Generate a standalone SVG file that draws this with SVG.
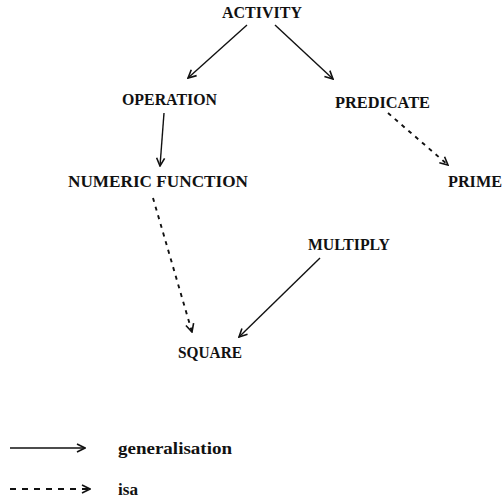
<svg xmlns="http://www.w3.org/2000/svg" width="503" height="501" viewBox="0 0 503 501">
<style>
text{font-family:"Liberation Serif","DejaVu Serif",serif;font-weight:bold;font-size:16px;fill:#111}
.gen{fill:none;stroke:#111;stroke-width:1.4;marker-end:url(#ah)}
.isa{fill:none;stroke:#111;stroke-width:1.9;stroke-dasharray:4 5;marker-end:url(#ah)}
</style>
<defs>
<marker id="ah" viewBox="0 0 10 10" refX="9" refY="5" markerWidth="10" markerHeight="10" markerUnits="userSpaceOnUse" orient="auto">
<path d="M1,1 L9,5 L1,9" fill="none" stroke="#111" stroke-width="1.6"/>
</marker>
</defs>
<rect width="503" height="501" fill="#fff"/>
<g id="connectors">
<line class="gen" x1="247" y1="25" x2="188" y2="78"/>
<line class="gen" x1="275" y1="25" x2="333" y2="79"/>
<path class="gen" d="M164,113 Q162,140 160,166"/>
<line class="isa" x1="388" y1="113" x2="448" y2="165"/>
<line class="isa" x1="153" y1="198" x2="192" y2="332"/>
<line class="gen" x1="320" y1="258" x2="239" y2="337"/>
</g>
<g id="activity"><text x="222" y="18" textLength="80" lengthAdjust="spacingAndGlyphs">ACTIVITY</text></g>
<g id="operation"><text x="122" y="105" textLength="95" lengthAdjust="spacingAndGlyphs">OPERATION</text></g>
<g id="predicate"><text x="335" y="108" textLength="95" lengthAdjust="spacingAndGlyphs">PREDICATE</text></g>
<g id="numeric-function"><text x="68" y="187" textLength="180" lengthAdjust="spacingAndGlyphs">NUMERIC FUNCTION</text></g>
<g id="prime"><text x="448" y="187" textLength="54" lengthAdjust="spacingAndGlyphs">PRIME</text></g>
<g id="multiply"><text x="308" y="250" textLength="82" lengthAdjust="spacingAndGlyphs">MULTIPLY</text></g>
<g id="square"><text x="178" y="358" textLength="64" lengthAdjust="spacingAndGlyphs">SQUARE</text></g>
<g id="legend">
<line class="gen" x1="10" y1="448" x2="85" y2="448"/>
<text x="118" y="454" textLength="114" lengthAdjust="spacingAndGlyphs">generalisation</text>
<line class="isa" x1="10" y1="489" x2="90" y2="489" style="stroke-dasharray:6 6"/>
<text x="118" y="495" textLength="20" lengthAdjust="spacingAndGlyphs">isa</text>
</g>
</svg>
